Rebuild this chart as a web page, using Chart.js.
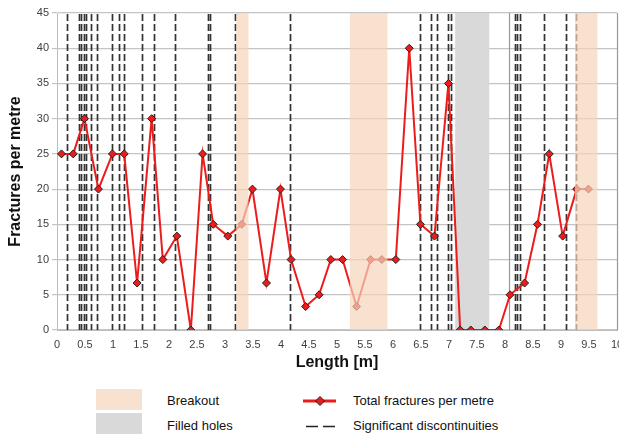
<!DOCTYPE html>
<html lang="en">
<head>
    <meta charset="UTF-8">
    <title>Fractures per metre</title>
    <script src="https://cdn.jsdelivr.net/npm/chart.js"></script>
    <style>
        html, body { margin: 0; padding: 0; background: #fff; overflow: hidden; }
        #wrap { position: relative; width: 619px; height: 437px; overflow: hidden; font-family: "Liberation Sans", Arial, sans-serif; }
        #chartBox { position: absolute; left: 0; top: 0; width: 640px; height: 372px; }
        .swatch { position: absolute; left: 96px; width: 46px; height: 21px; }
        .lg-text { position: absolute; font-size: 13px; color: #111; line-height: 16px; }
    </style>
</head>
<body>
<div id="wrap">
    <div id="chartBox"><canvas id="fracChart" width="640" height="372"></canvas></div>

    <div class="swatch" style="top:389px; background:#f9e1cf;"></div>
    <div class="swatch" style="top:413px; background:#d9d9d9;"></div>
    <div class="lg-text" style="left:167px; top:393px;">Breakout</div>
    <div class="lg-text" style="left:167px; top:418px;">Filled holes</div>
    <canvas id="legendMarks" width="40" height="40" style="position:absolute; left:300px; top:391px;"></canvas>
    <div class="lg-text" style="left:353px; top:393px;">Total fractures per metre</div>
    <div class="lg-text" style="left:353px; top:418px;">Significant discontinuities</div>
</div>

<script>
    // Length along the hole (m) and fractures per metre
    const lengths = [0.08, 0.29, 0.49, 0.74, 0.99, 1.2, 1.43, 1.69, 1.89, 2.14, 2.39, 2.6, 2.79, 3.05,
        3.3, 3.49, 3.74, 3.99, 4.18, 4.44, 4.68, 4.89, 5.1, 5.35, 5.6, 5.8, 6.05, 6.29, 6.49, 6.74,
        6.99, 7.2, 7.39, 7.64, 7.89, 8.09, 8.35, 8.58, 8.79, 9.03, 9.28, 9.49];
    const fractures = [25, 25, 30, 20, 25, 25, 6.67, 30, 10, 13.33, 0, 25, 15, 13.33,
        15, 20, 6.67, 20, 10, 3.33, 5, 10, 10, 3.33, 10, 10, 10, 40, 15, 13.33,
        35, 0, 0, 0, 0, 5, 6.67, 15, 25, 13.33, 20, 20];

    // zones [from, to] in m
    const breakoutZones = [[3.2, 3.42], [5.23, 5.9], [9.25, 9.65]];
    const filledZones = [[7.11, 7.72]];
    const discontinuities = [0.17, 0.39, 0.43, 0.48, 0.52, 0.6, 0.71, 0.99, 1.11, 1.2, 1.52, 1.74,
        2.11, 2.69, 2.73, 3.18, 4.16, 6.49, 6.68, 6.78, 6.98, 7.03, 8.18, 8.22, 8.26, 8.7, 9.09, 9.27];
    const sectionBreak = 8.08;

    const xTicks = [0, 0.5, 1, 1.5, 2, 2.5, 3, 3.5, 4, 4.5, 5, 5.5, 6, 6.5, 7, 7.5, 8, 8.5, 9, 9.5, 10];

    const points = lengths.map((x, i) => ({ x: x, y: fractures[i] }));

    function fillZone(chart, zone, color) {
        const { ctx, chartArea, scales } = chart;
        const x1 = scales.x.getPixelForValue(zone[0]);
        const x2 = scales.x.getPixelForValue(zone[1]);
        ctx.fillStyle = color;
        ctx.fillRect(x1, chartArea.top, x2 - x1, chartArea.bottom - chartArea.top);
    }

    const zonesPlugin = {
        id: 'zones',
        beforeDatasetsDraw(chart) {
            const { ctx, chartArea, scales } = chart;
            ctx.save();
            filledZones.forEach(z => fillZone(chart, z, '#d9d9d9'));

            // dashed discontinuity lines
            ctx.strokeStyle = '#333';
            ctx.lineWidth = 1.7;
            ctx.setLineDash([7, 3]);
            discontinuities.forEach(d => {
                const px = Math.round(scales.x.getPixelForValue(d)) + 0.5;
                ctx.beginPath();
                ctx.moveTo(px, chartArea.top + 1);
                ctx.lineTo(px, chartArea.bottom);
                ctx.stroke();
            });
            ctx.setLineDash([]);

            // solid section line and right border
            ctx.strokeStyle = '#999';
            ctx.lineWidth = 1.2;
            [sectionBreak, 10].forEach(v => {
                const px = Math.round(scales.x.getPixelForValue(v)) + 0.5;
                ctx.beginPath();
                ctx.moveTo(px, chartArea.top);
                ctx.lineTo(px, chartArea.bottom);
                ctx.stroke();
            });
            ctx.restore();
        },
        afterDatasetsDraw(chart) {
            const { ctx } = chart;
            ctx.save();
            breakoutZones.forEach(z => fillZone(chart, z, 'rgba(246, 212, 186, 0.7)'));
            ctx.restore();
        }
    };

    new Chart(document.getElementById('fracChart'), {
        type: 'scatter',
        data: {
            datasets: [{
                label: 'Total fractures per metre',
                data: points,
                showLine: true,
                borderColor: '#ec1c1c',
                borderWidth: 2,
                pointStyle: 'rectRot',
                pointRadius: 4,
                pointBackgroundColor: '#ec1c1c',
                pointBorderColor: '#222',
                pointBorderWidth: 1,
                tension: 0
            }]
        },
        options: {
            responsive: false,
            animation: false,
            layout: { padding: { top: 13, right: 23, left: 0, bottom: 0 } },
            plugins: { legend: { display: false }, tooltip: { enabled: false } },
            scales: {
                x: {
                    type: 'linear',
                    min: 0,
                    max: 10,
                    afterBuildTicks: s => { s.ticks = xTicks.map(v => ({ value: v })); },
                    afterFit: s => { s.height = 42; },
                    grid: { display: false, drawTicks: false },
                    border: { display: true, color: '#bdbdbd', width: 1 },
                    ticks: {
                        padding: 8,
                        maxRotation: 0,
                        autoSkip: false,
                        color: '#404040',
                        font: { family: 'Liberation Sans, Arial', size: 11 },
                        callback: v => String(v)
                    },
                    title: {
                        display: true,
                        text: 'Length [m]',
                        color: '#111',
                        font: { family: 'Liberation Sans, Arial', size: 16, weight: 'bold' },
                        padding: { top: 6, bottom: 0 }
                    }
                },
                y: {
                    min: 0,
                    max: 45,
                    afterFit: s => { s.width = 57; },
                    grid: { color: '#c4c4c4', lineWidth: 1.2, tickLength: 5 },
                    border: { display: true, color: '#bdbdbd', width: 1 },
                    ticks: {
                        stepSize: 5,
                        padding: 3,
                        color: '#404040',
                        font: { family: 'Liberation Sans, Arial', size: 11 }
                    },
                    title: {
                        display: true,
                        text: 'Fractures per metre',
                        color: '#111',
                        font: { family: 'Liberation Sans, Arial', size: 16, weight: 'bold' },
                        padding: { top: 6, bottom: 0 }
                    }
                }
            }
        },
        plugins: [zonesPlugin]
    });

    // legend marks: red line with diamond, and two dashes
    const lctx = document.getElementById('legendMarks').getContext('2d');
    lctx.strokeStyle = '#ec1c1c';
    lctx.lineWidth = 3;
    lctx.beginPath(); lctx.moveTo(3, 10); lctx.lineTo(36, 10); lctx.stroke();
    lctx.fillStyle = '#ec1c1c';
    lctx.strokeStyle = '#222';
    lctx.lineWidth = 1;
    lctx.beginPath();
    lctx.moveTo(20, 5.5); lctx.lineTo(24.5, 10); lctx.lineTo(20, 14.5); lctx.lineTo(15.5, 10); lctx.closePath();
    lctx.fill(); lctx.stroke();
    lctx.strokeStyle = '#222';
    lctx.lineWidth = 1.6;
    lctx.beginPath(); lctx.moveTo(6, 35.5); lctx.lineTo(18, 35.5); lctx.moveTo(23, 35.5); lctx.lineTo(35, 35.5); lctx.stroke();
</script>
</body>
</html>
